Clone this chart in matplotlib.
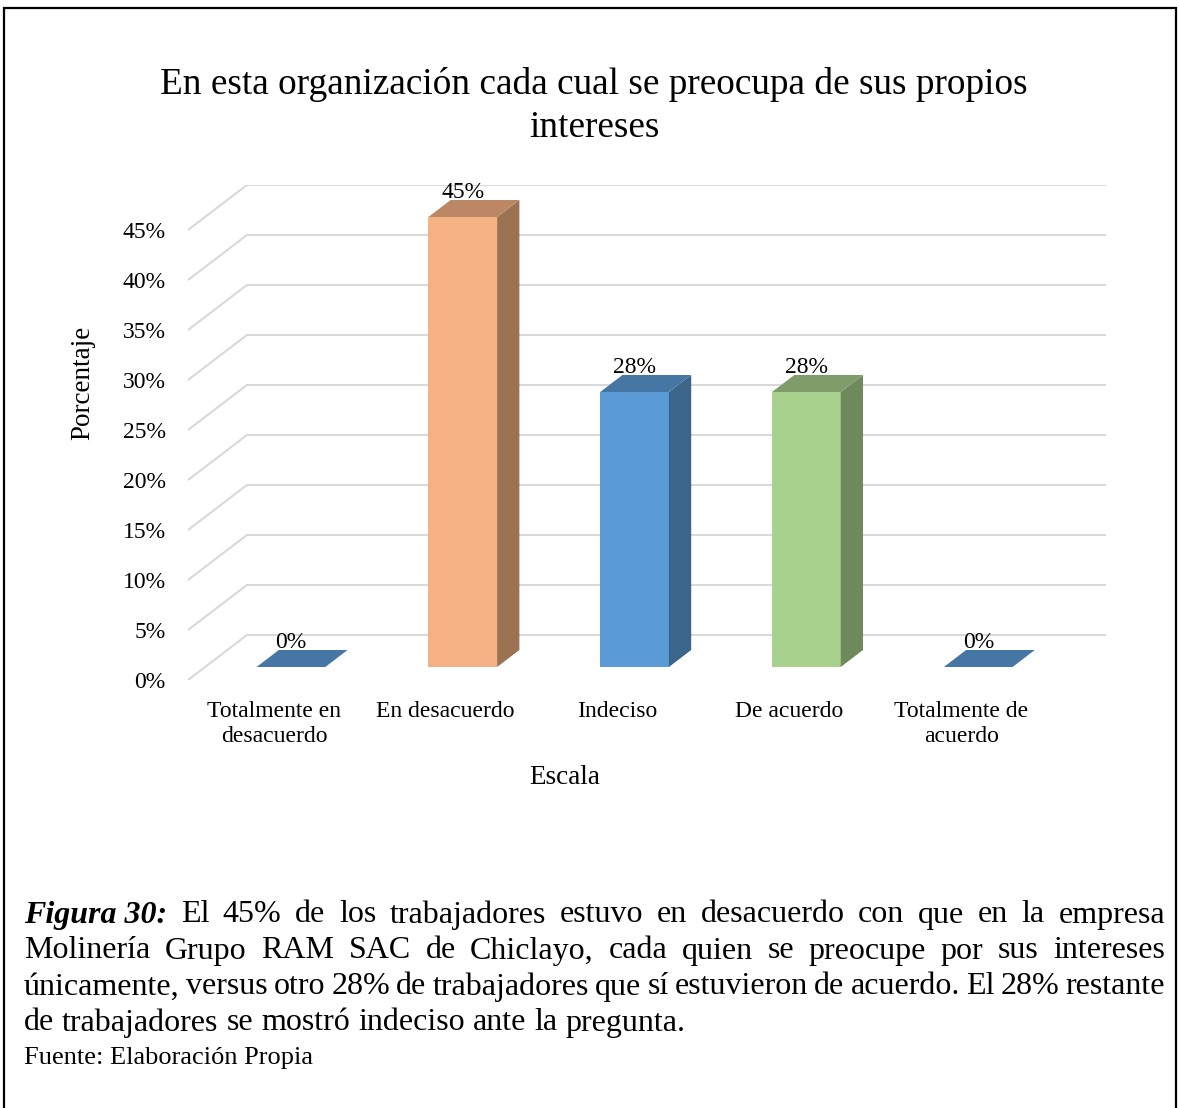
import numpy as np
import matplotlib
matplotlib.use("Agg")
import matplotlib.pyplot as plt
from matplotlib.patches import Polygon, Rectangle

plt.rcParams['font.family'] = ['Liberation Serif', 'DejaVu Serif']

# data
categorias = ["Totalmente en\ndesacuerdo", "En desacuerdo", "Indeciso", "De acuerdo", "Totalmente de\nacuerdo"]
porcentajes = [0, 45, 27.5, 27.5, 0]
yticks = [0, 5, 10, 15, 20, 25, 30, 35, 40, 45]
c_front = ["#5B9BD5", "#F4B183", "#5B9BD5", "#A9D18E", "#5B9BD5"]
c_top = ["#4676A3", "#BB8764", "#4676A3", "#7F9D6A", "#4676A3"]
c_side = ["#3B6689", "#9B7352", "#3B6689", "#6E8A5C", "#3B6689"]

W, H = 1179, 1108
fig = plt.figure(figsize=(W / 100, H / 100), dpi=100)

# depth offset of the 3D wall (in data units)
ddx, ddy = 0.343, 4.5
t0, t1 = 0.289, 0.667   # front/back of bars as fraction of depth
bw = 0.40

ax = fig.add_axes([188 / W, (H - 680) / H, (1106 - 188) / W, (680 - 185) / H])
ax.set_xlim(-0.5, 4.5 + ddx)
ax.set_ylim(0, 45 + ddy)
for s in ax.spines.values():
    s.set_visible(False)

# grid: diagonal on side wall + horizontal on back wall
for v in yticks:
    ax.plot([-0.5, -0.5 + ddx, 4.5 + ddx], [v, v + ddy, v + ddy], color="#D9D9D9", lw=1.5, zorder=1)

x = np.arange(len(categorias))
for i, v in enumerate(porcentajes):
    x0 = i + t0 * ddx - bw / 2
    y0 = t0 * ddy
    ox, oy = (t1 - t0) * ddx, (t1 - t0) * ddy
    if v > 0:
        ax.bar(x0, v, width=bw, bottom=y0, align="edge", color=c_front[i], zorder=3)
        ax.add_patch(Polygon([(x0 + bw, y0), (x0 + bw + ox, y0 + oy), (x0 + bw + ox, y0 + v + oy), (x0 + bw, y0 + v)],
                             closed=True, facecolor=c_side[i], edgecolor="none", zorder=3))
    ax.add_patch(Polygon([(x0, y0 + v), (x0 + ox, y0 + v + oy), (x0 + bw + ox, y0 + v + oy), (x0 + bw, y0 + v)],
                         closed=True, facecolor=c_top[i], edgecolor="none", zorder=3))
    ax.text(i + 0.1, v + 3.7, "{:.0f}%".format(v), ha="center", va="center", fontsize=17, zorder=4)

ax.set_yticks(yticks)
ax.set_yticklabels(["{}%".format(v) for v in yticks], fontsize=17)
ax.set_xticks(x)
ax.set_xticklabels(categorias, fontsize=17, linespacing=1.25)
ax.tick_params(axis="y", length=0, pad=16)
ax.tick_params(axis="x", length=0, pad=15)

fig.text(83 / W, 1 - 383 / H, "Porcentaje", rotation=90, ha="center", va="center", fontsize=19.5)
fig.text(565 / W, 1 - 778 / H, "Escala", ha="center", va="center", fontsize=19.5)
fig.text(594 / W, 1 - 106 / H, "En esta organización cada cual se preocupa de sus propios\nintereses",
         ha="center", va="center", fontsize=26.8, linespacing=1.29)

# outer frame
fig.patches.append(Rectangle((4 / W, -0.01), (1176 - 4) / W, 1 - 8 / H + 0.01, transform=fig.transFigure,
                             fill=False, edgecolor="black", lw=1.6))

# caption, justified
cap_lines = [
    ([("Figura 30:", "bi"), ("El", ""), ("45%", ""), ("de", ""), ("los", ""), ("trabajadores", ""), ("estuvo", ""),
      ("en", ""), ("desacuerdo", ""), ("con", ""), ("que", ""), ("en", ""), ("la", ""), ("empresa", "")], True),
    ([(w, "") for w in "Molinería Grupo RAM SAC de Chiclayo, cada quien se preocupe por sus intereses".split()], True),
    ([(w, "") for w in "únicamente, versus otro 28% de trabajadores que sí estuvieron de acuerdo. El 28% restante".split()], True),
    ([(w, "") for w in "de trabajadores se mostró indeciso ante la pregunta.".split()], False),
]
cap_y = [915, 951, 987, 1023]
left, right = 24, 1165
fs = 23
renderer = fig.canvas.get_renderer()
for (words, just), yp in zip(cap_lines, cap_y):
    texts = []
    for w, st in words:
        t = fig.text(0, 1 - yp / H, w, fontsize=fs, va="center", ha="left",
                     fontweight="bold" if "b" in st else "normal",
                     fontstyle="italic" if "i" in st else "normal")
        texts.append(t)
    widths = [t.get_window_extent(renderer).width for t in texts]
    space = fs * 0.25 * 100 / 72
    if just:
        space = (right - left - sum(widths)) / (len(texts) - 1)
    xp = left
    for t, wd in zip(texts, widths):
        t.set_x(xp / W)
        xp += wd + space
fig.text(left / W, 1 - 1058 / H, "Fuente: Elaboración Propia", fontsize=19, va="center", ha="left")

fig.savefig("out.png", dpi=100)
